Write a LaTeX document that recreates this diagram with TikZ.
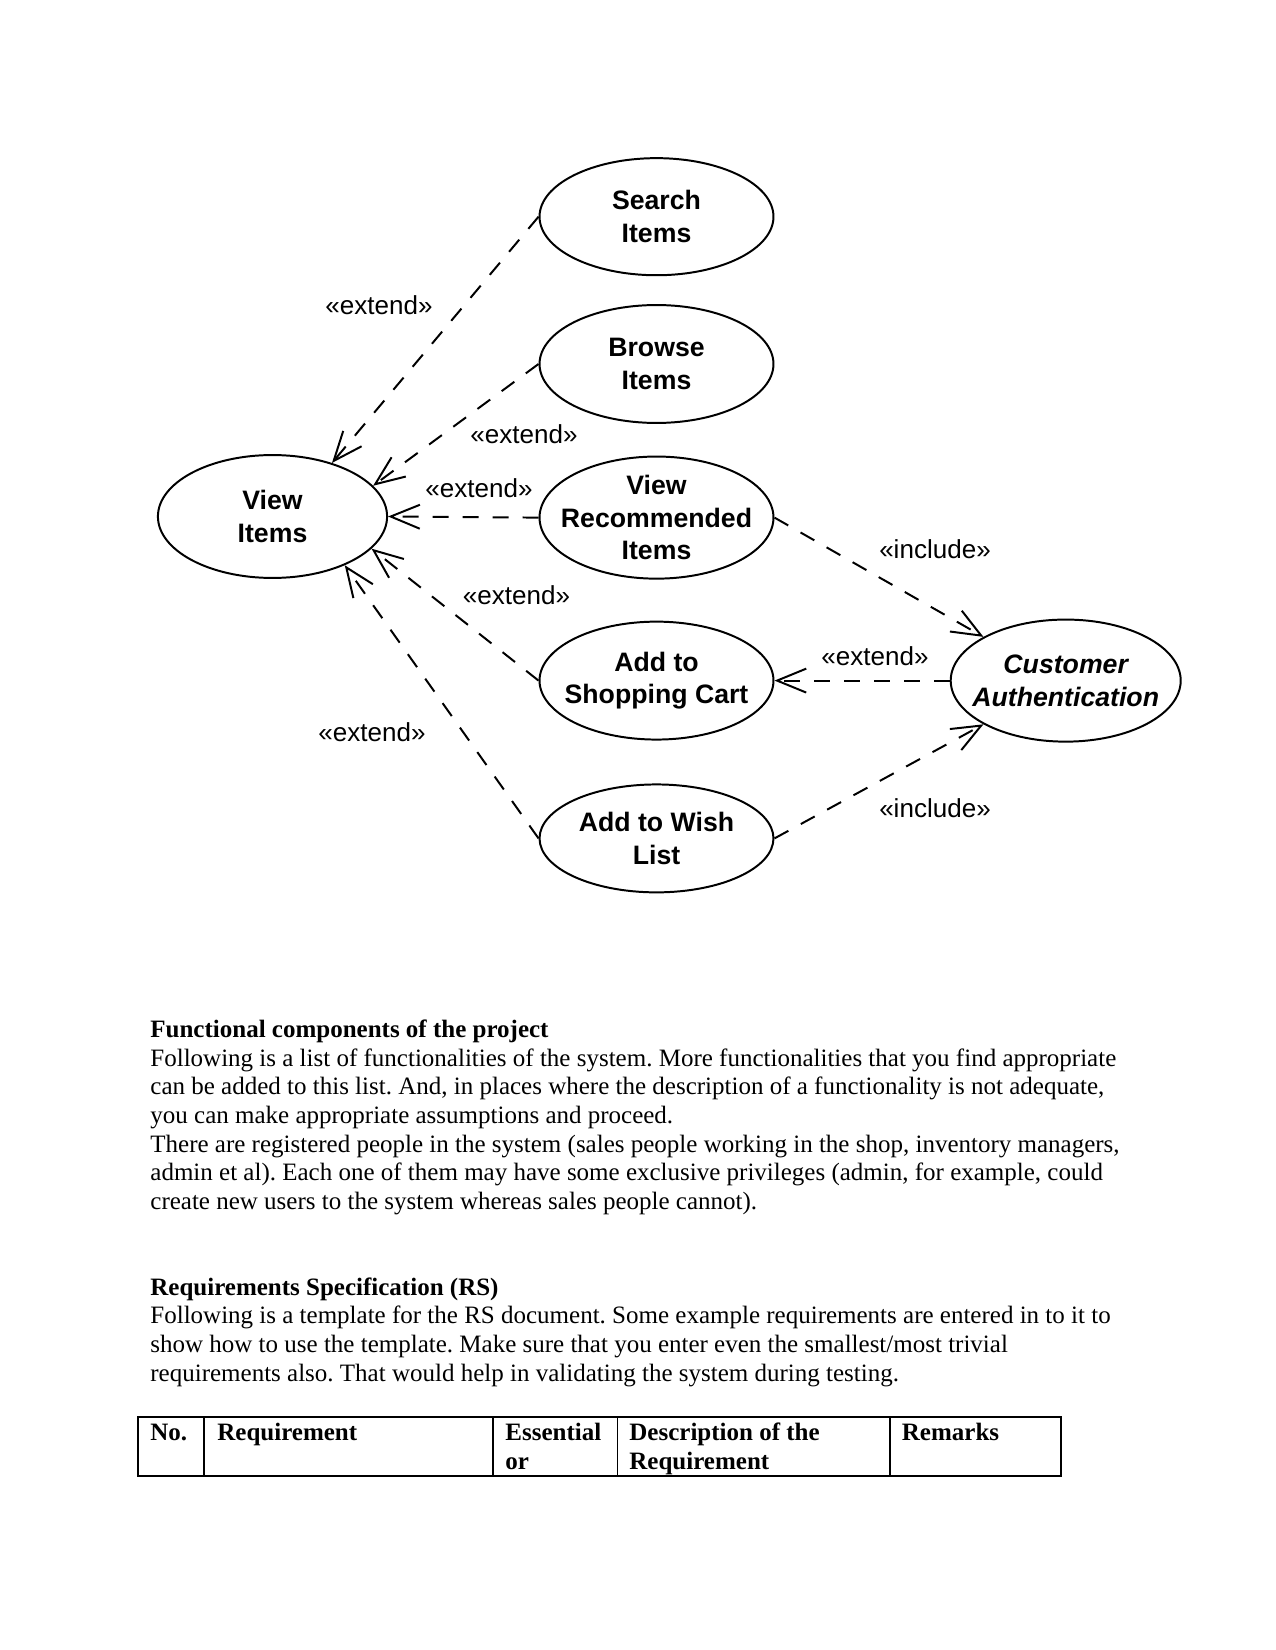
\documentclass[tikz,border=0pt]{standalone}
\usepackage{fontspec}
\setmainfont{Liberation Serif}
\newfontfamily\diagfont{Liberation Sans}
\usetikzlibrary{arrows.meta,shapes.geometric}
\frenchspacing
\begin{document}
\begin{tikzpicture}[x=0.48pt,y=-0.48pt,
  uc/.style={ellipse, draw, line width=0.95pt, inner sep=0pt, minimum width=112.3pt, minimum height=56.2pt},
  uctext/.style={inner sep=0pt, align=center, font=\diagfont\bfseries\fontsize{12.8}{15.6}\selectfont},
  dep/.style={line width=0.95pt, dash pattern=on 7.6pt off 6.8pt, -{Straight Barb[length=14pt,width=11.5pt]}},
  stereo/.style={inner sep=0pt, font=\diagfont\fontsize{12.5}{15}\selectfont},
  body/.style={anchor=base west, inner sep=0pt, font=\fontsize{12}{14}\selectfont\frenchspacing},
  grid/.style={line width=0.6pt}]
\useasboundingbox (0,0) rectangle (1275,1650);
\fill[white] (0,0) rectangle (1275,1650);

% use case ellipses
\node[uc] (search) at (656.5,216.7) {};
\node[uc, minimum height=56.6pt] (browse) at (656.5,364) {};
\node[uc, minimum height=58.6pt] (rec) at (656.5,517.6) {};
\node[uc, minimum height=56.6pt] (cart) at (656.5,680.6) {};
\node[uc, minimum height=51.8pt] (wish) at (656.5,838.4) {};
\node[uc, minimum width=110pt, minimum height=59pt] (view) at (272.5,516.5) {};
\node[uc, minimum width=110.4pt, minimum height=58.6pt] (auth) at (1065.7,680.6) {};

\node[uctext] (searcht) at (search.center) {Search\\Items};
\node[uctext] (browset) at (browse.center) {Browse\\Items};
\node[uctext] (rect) at (rec.center) {View\\Recommended\\Items};
\node[uctext] (cartt) at (cart.center) {Add to\\Shopping Cart};
\node[uctext] (wisht) at (wish.center) {Add to Wish\\List};
\node[uctext] (viewt) at (view.center) {View\\Items};
\node[uctext, font=\diagfont\bfseries\itshape\fontsize{12.8}{15.6}\selectfont] (autht) at (auth.center) {Customer\\Authentication};

% dependencies
\draw[dep] (search.west) -- (view.42);
\draw[dep] (browse.west) -- (view.17);
\draw[dep] (rec.west) -- (view.east);
\draw[dep] (cart.west) -- (view.-18);
\draw[dep] (wish.west) -- (view.-34);
\draw[dep] (rec.east) -- (auth.152);
\draw[dep] (auth.west) -- (cart.east);
\draw[dep] (wish.east) -- (auth.208);

% stereotypes
\node[stereo] (s1) at (379,305) {«extend»};
\node[stereo] (s2) at (524,434) {«extend»};
\node[stereo] (s3) at (479,488) {«extend»};
\node[stereo] (s4) at (516.5,595) {«extend»};
\node[stereo] (s5) at (372,732) {«extend»};
\node[stereo] (s6) at (935,549) {«include»};
\node[stereo] (s7) at (875,656) {«extend»};
\node[stereo] (s8) at (935,808) {«include»};

% text
\node[body] (h1) at (150,1037) {\bfseries Functional components of the project};
\node[body] (p1) at (150,1066) {Following is a list of functionalities of the system. More functionalities that you find appropriate};
\node[body] (p2) at (150,1094) {can be added to this list. And, in places where the description of a functionality is not adequate,};
\node[body] (p3) at (150,1123) {you can make appropriate assumptions and proceed.};
\node[body] (p4) at (150,1152) {There are registered people in the system (sales people working in the shop, inventory managers,};
\node[body] (p5) at (150,1180) {admin et al). Each one of them may have some exclusive privileges (admin, for example, could};
\node[body] (p6) at (150,1209) {create new users to the system whereas sales people cannot).};

\node[body] (h2) at (150,1295) {\bfseries Requirements Specification (RS)};
\node[body] (q1) at (150,1323) {Following is a template for the RS document. Some example requirements are entered in to it to};
\node[body] (q2) at (150,1352) {show how to use the template. Make sure that you enter even the smallest/most trivial};
\node[body] (q3) at (150,1381) {requirements also. That would help in validating the system during testing.};

% table
\draw[grid] (138,1417) rectangle (1061,1476);
\draw[grid] (204,1417) -- (204,1476);
\draw[grid] (493,1417) -- (493,1476);
\draw[grid] (617.5,1417) -- (617.5,1476);
\draw[grid] (890,1417) -- (890,1476);
\node[body] (t1) at (150,1440) {\bfseries No.};
\node[body] (t2) at (217,1440) {\bfseries Requirement};
\node[body] (t3) at (505,1440) {\bfseries Essential};
\node[body] (t3b) at (505,1469) {\bfseries or};
\node[body] (t4) at (629,1440) {\bfseries Description of the};
\node[body] (t4b) at (629,1469) {\bfseries Requirement};
\node[body] (t5) at (901.5,1440) {\bfseries Remarks};
\end{tikzpicture}
\end{document}
